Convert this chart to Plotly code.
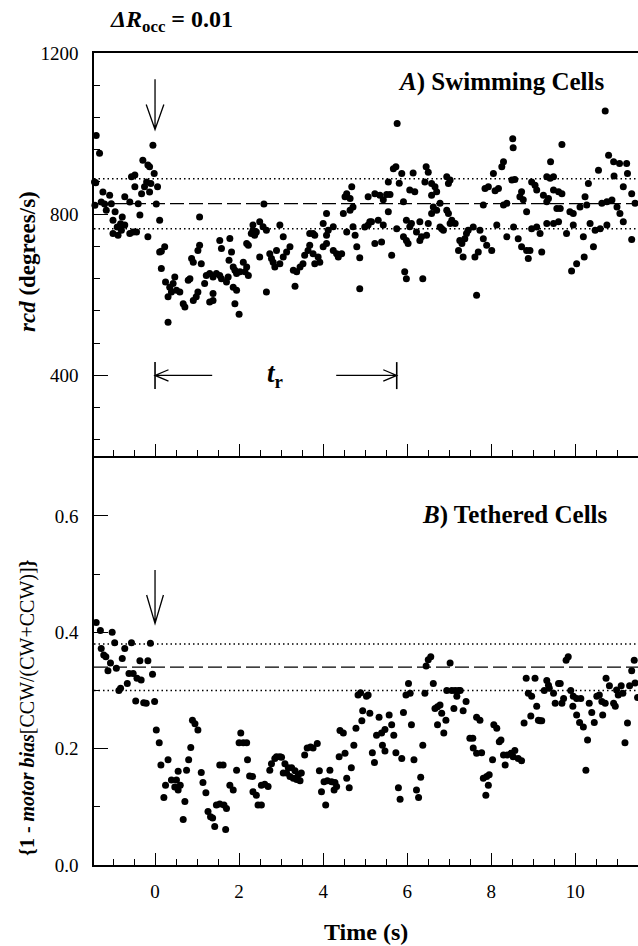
import plotly.graph_objects as go

# ---- Panel A: swimming cells, rcd (degrees/s) vs time (s) ----
swim_t = [
    -1.46, -1.44, -1.43, -1.41, -1.40, -1.32, -1.28, -1.24, -1.20, -1.16,
    -1.08, -1.04, -1.00, -1.00, -0.95, -0.90, -0.88, -0.82, -0.80, -0.78,
    -0.72, -0.72, -0.60, -0.60, -0.56, -0.52, -0.48, -0.48, -0.44, -0.40,
    -0.36, -0.32, -0.29, -0.25, -0.20, -0.17, -0.17, -0.13, -0.13, -0.10,
    -0.05, -0.02, 0.03, 0.06, 0.11,
    0.11, 0.23, 0.15, 0.15, 0.25, 0.35, 0.47, 0.43, 0.31, 0.39,
    0.51, 0.31, 0.59, 0.67, 0.71, 0.79, 0.83, 0.91, 0.98, 1.02,
    0.87, 0.91, 1.02, 1.06, 1.06, 1.10, 1.18, 1.22, 1.30, 1.38,
    1.46, 1.54, 1.58, 1.30, 1.38, 1.38, 1.54, 1.58, 1.70, 1.74,
    1.76, 1.78, 1.82, 1.86, 1.90, 1.94, 2.02, 1.86, 1.94, 1.90,
    2.00, 2.10, 2.18, 2.22, 2.14, 2.18, 2.22, 2.29, 2.33, 2.37,
    2.49, 2.65, 2.33, 2.49, 2.57, 2.65, 2.41, 2.59, 2.97, 3.05,
    2.73, 2.77, 2.81, 2.85, 2.89, 2.97, 3.05, 3.13, 3.21, 3.29,
    3.33, 3.37, 3.45, 3.52, 3.56, 3.64, 3.68, 3.76, 3.80, 3.88,
    3.92, 4.00, 4.08, 4.24, 4.32, 4.36, 3.68, 3.80, 4.08, 4.12,
    3.76, 4.00, 4.08, 4.24,
    4.44, 4.48, 4.52, 4.56, 4.64, 4.64, 4.68, 4.71, 4.71, 4.80,
    4.87, 4.87, 5.07, 5.07, 5.15, 5.23, 5.23, 5.31, 5.35, 5.39,
    5.43, 5.51, 5.55, 5.55, 5.59, 5.63, 5.67, 5.73, 5.76, 5.81,
    5.87, 5.91, 5.91, 5.94, 5.98, 5.98, 5.98, 6.02, 6.06, 6.06,
    6.10, 6.14, 6.18, 6.22, 6.30, 6.30, 6.34, 6.37, 6.42, 6.45,
    6.46, 6.50, 6.58, 6.58, 6.58, 6.62, 6.66, 6.70, 6.70, 6.78,
    6.78, 6.82, 6.86, 6.94, 6.94, 6.98, 6.98, 7.02, 7.06, 7.14,
    7.22, 7.25, 7.30, 7.33, 7.37, 7.41, 7.45, 7.61, 7.65, 7.69,
    7.73, 7.81, 7.81, 7.85, 7.89, 7.93, 8.01, 8.05, 8.09, 8.17,
    8.25, 8.29, 8.29, 8.37, 8.37, 8.49, 8.51, 8.52, 8.56, 8.64,
    8.68, 8.72, 8.72, 8.76, 8.84, 8.84, 8.88, 8.92, 8.96, 8.96,
    9.04, 9.08, 9.08, 9.16, 9.20, 9.24, 9.32, 9.32, 9.36, 9.40,
    9.41, 9.48, 9.48, 9.48, 9.56, 9.60, 9.60, 9.64, 9.68, 9.68,
    9.79, 9.87, 9.91, 9.95, 9.95, 10.03, 10.11, 10.19, 10.21, 10.23,
    10.27, 10.31, 10.43, 10.47, 10.55, 10.59, 10.63, 10.71, 10.75, 10.79,
    10.87, 10.91, 10.92, 10.99, 11.05, 11.06, 11.14, 11.22, 11.24, 11.34,
    11.34, 11.42,
    4.56, 4.76, 4.99, 5.11, 5.43, 5.75, 6.50, 7.02, 7.57, 8.13,
    8.53, 9.32, 10.35, 10.75, 11.14,
]
swim_rcd = [
    706, 880, 822, 878, 995, 951, 830, 855, 825, 810,
    847, 826, 785, 752, 806, 768, 748, 776, 760, 793,
    843, 773, 830, 752, 893, 756, 897, 868, 756, 826,
    798, 851, 934, 868, 880, 922, 744, 918, 855, 876,
    971, 901, 825, 868, 785,
    706, 719, 708, 665, 632, 619, 644, 628, 595, 607,
    611, 532, 607, 578, 570, 636, 640, 586, 595, 607,
    690, 681, 710, 723, 793, 677, 628, 648, 653, 644,
    653, 648, 640, 582, 586, 603, 735, 715, 632, 644,
    686, 740, 706, 669, 661, 653, 657, 619, 611, 578,
    552, 681, 669, 648, 657, 727, 723, 752, 760, 748,
    694, 607, 773, 781, 769, 760, 756, 825, 773, 744,
    702, 690, 681, 669, 710, 677, 694, 706, 719, 661,
    621, 657, 669, 677, 698, 710, 723, 702, 677, 694,
    681, 719, 727, 710, 702, 694, 752, 748, 748, 760,
    752, 777, 802, 769,
    702, 802, 843, 851, 839, 810, 868, 818, 769, 719,
    692, 615, 843, 773, 781, 851, 727, 785, 847, 731,
    836, 849, 880, 806, 849, 698, 913, 918, 1025, 877,
    901, 831, 744, 657, 785, 735, 640, 727, 860, 769,
    777, 902, 856, 756, 781, 735, 744, 640, 880, 918,
    748, 904, 876, 847, 802, 818, 868, 856, 810, 827,
    768, 764, 760, 893, 810, 876, 802, 885, 785, 777,
    710, 735, 727, 694, 739, 752, 760, 694, 599, 706,
    760, 823, 739, 864, 723, 868, 710, 901, 858, 864,
    918, 930, 823, 827, 744, 885, 987, 965, 886, 739,
    843, 856, 719, 836, 806, 710, 690, 710, 880, 764,
    872, 860, 768, 752, 706, 847, 893, 831, 839, 889,
    930, 893, 860, 777, 814, 856, 781, 814, 973, 851,
    752, 806, 659, 802, 773, 677, 818, 744, 694, 843,
    823, 876, 719, 760, 909, 764, 827, 1056, 831, 946,
    835, 930, 895, 818, 926, 802, 868, 926, 901, 851,
    737, 827,
    756, 748, 768, 781, 773, 764, 777, 777, 768, 773,
    768, 777, 777, 773, 781,
]

# ---- Panel B: tethered cells, 1 - motor bias vs time (s) ----
teth_t = [
    -1.40, -1.30, -1.28, -1.22, -1.17, -1.12, -1.06, -1.02, -0.96, -0.92,
    -0.86, -0.82, -0.78, -0.72, -0.66, -0.62, -0.56, -0.52, -0.46, -0.43,
    -0.36, -0.33, -0.27, -0.21, -0.17, -0.11, -0.06, -0.01,
    0.03, 0.10, 0.14, 0.21, 0.25, 0.31, 0.39, 0.47, 0.51, 0.55,
    0.55, 0.60, 0.67, 0.71, 0.75, 0.80, 0.85, 0.89, 0.95, 1.02,
    1.10, 1.14, 1.21, 1.26, 1.32, 1.37, 1.42, 1.46, 1.54, 1.54,
    1.62, 1.64, 1.68, 1.70, 1.78, 1.86, 1.94, 2.00, 2.04, 2.10,
    2.18, 2.20, 2.25, 2.32, 2.33, 2.41, 2.45, 2.53, 2.53, 2.61,
    2.69, 2.73, 2.77, 2.85, 2.89, 2.97, 3.01, 3.05, 3.09, 3.13,
    3.17, 3.21, 3.25, 3.29, 3.33, 3.37, 3.41, 3.45, 3.48, 3.56,
    3.62, 3.70, 3.76, 3.86, 3.91, 3.96, 4.02, 4.06, 4.10, 4.16,
    4.20, 4.26, 4.28, 4.32, 4.38, 4.40, 4.48, 4.52, 4.56, 4.62,
    4.67, 4.73, 4.78, 4.83, 4.89, 4.94, 4.92, 5.03, 5.07, 5.11,
    5.17, 5.22, 5.27, 5.33, 5.39, 5.41, 5.47, 5.47, 5.57, 5.63,
    5.68, 5.73, 5.79, 5.83, 5.87, 5.91, 5.97, 6.03, 6.07, 6.10,
    6.16, 6.22, 6.27, 6.32, 6.37, 6.42, 6.45, 6.50, 6.56, 6.62,
    6.66, 6.72, 6.72, 6.78, 6.82, 6.87, 6.92, 6.94, 7.02, 7.06,
    7.11, 7.14, 7.18, 7.22, 7.26, 7.33, 7.40, 7.49, 7.56, 7.57,
    7.65, 7.65, 7.73, 7.77, 7.81, 7.87, 7.89, 7.93, 7.95, 8.03,
    8.06, 8.13, 8.19, 8.23, 8.29, 8.33, 8.38, 8.47, 8.52, 8.56,
    8.64, 8.72, 8.78, 8.83, 8.88, 8.96, 8.94, 9.04, 9.08, 9.12,
    9.16, 9.20, 9.26, 9.32, 9.36, 9.38, 9.48, 9.52, 9.60, 9.64,
    9.68, 9.72, 9.78, 9.83, 9.89, 9.94, 9.95, 10.03, 10.03, 10.10,
    10.13, 10.19, 10.25, 10.29, 10.33, 10.39, 10.45, 10.51, 10.57, 10.63,
    10.65, 10.71, 10.73, 10.81, 10.91, 10.95, 10.98, 11.02, 11.09, 11.13,
    11.18, 11.24, 11.29, 11.34, 11.40, 11.42, 11.48,
]
teth_bias = [
    0.417, 0.403, 0.372, 0.361, 0.358, 0.334, 0.347, 0.400, 0.382, 0.338,
    0.300, 0.304, 0.355, 0.372, 0.312, 0.329, 0.382, 0.329, 0.282, 0.321,
    0.351, 0.318, 0.279, 0.278, 0.351, 0.381, 0.328, 0.281,
    0.232, 0.210, 0.172, 0.116, 0.137, 0.181, 0.146, 0.134, 0.146, 0.129,
    0.161, 0.137, 0.078, 0.109, 0.163, 0.181, 0.202, 0.249, 0.243, 0.232,
    0.159, 0.142, 0.124, 0.092, 0.083, 0.081, 0.066, 0.103, 0.105, 0.172,
    0.172, 0.103, 0.061, 0.097, 0.137, 0.129, 0.163, 0.210, 0.227, 0.210,
    0.210, 0.181, 0.153, 0.152, 0.126, 0.120, 0.103, 0.103, 0.137, 0.139,
    0.135, 0.163, 0.174, 0.183, 0.186, 0.186, 0.185, 0.158, 0.174, 0.158,
    0.167, 0.152, 0.167, 0.149, 0.162, 0.147, 0.155, 0.145, 0.158, 0.189,
    0.201, 0.203, 0.201, 0.209, 0.162, 0.126, 0.143, 0.103, 0.145, 0.163,
    0.143, 0.129, 0.142, 0.135, 0.186, 0.231, 0.227, 0.192, 0.149, 0.133,
    0.167, 0.206, 0.235, 0.292, 0.296, 0.265, 0.248, 0.290, 0.292, 0.261,
    0.193, 0.176, 0.223, 0.254, 0.227, 0.206, 0.233, 0.196, 0.258, 0.241,
    0.223, 0.193, 0.133, 0.113, 0.183, 0.262, 0.292, 0.312, 0.295, 0.241,
    0.181, 0.129, 0.116, 0.151, 0.206, 0.295, 0.342, 0.353, 0.358, 0.312,
    0.269, 0.272, 0.241, 0.275, 0.261, 0.227, 0.249, 0.300, 0.347, 0.300,
    0.269, 0.300, 0.290, 0.300, 0.300, 0.265, 0.281, 0.218, 0.218, 0.201,
    0.254, 0.192, 0.249, 0.193, 0.149, 0.120, 0.152, 0.137, 0.155, 0.181,
    0.241, 0.235, 0.212, 0.215, 0.189, 0.172, 0.189, 0.192, 0.186, 0.197,
    0.183, 0.179, 0.244, 0.321, 0.295, 0.290, 0.256, 0.321, 0.273, 0.249,
    0.248, 0.248, 0.300, 0.317, 0.309, 0.304, 0.295, 0.278, 0.312, 0.312,
    0.278, 0.286, 0.352, 0.358, 0.300, 0.273, 0.290, 0.286, 0.258, 0.245,
    0.286, 0.237, 0.163, 0.215, 0.278, 0.262, 0.245, 0.290, 0.292, 0.281,
    0.258, 0.278, 0.321, 0.308, 0.278, 0.273, 0.301, 0.292, 0.308, 0.295,
    0.210, 0.244, 0.308, 0.334, 0.352, 0.313, 0.288,
]

# pre-stimulus mean and +/- band for each panel
RCD_MEAN, RCD_BAND = 826, 62
BIAS_MEAN, BIAS_BAND = 0.34, 0.04
T_RECOVERY = 5.75          # recovery time t_r (s)

X_RANGE = [-1.452, 11.49]
RCD_RANGE = [200, 1200]
BIAS_RANGE = [0, 0.703]

FONT = "Liberation Serif, DejaVu Serif, serif"
SPLIT = 0.5037             # paper fraction where the two panels meet

fig = go.Figure()
dot = dict(color="black", size=7, line=dict(width=0))
fig.add_trace(go.Scatter(x=swim_t, y=swim_rcd, mode="markers", marker=dot,
                         xaxis="x2", yaxis="y2", cliponaxis=False,
                         showlegend=False, hoverinfo="x+y"))
fig.add_trace(go.Scatter(x=teth_t, y=teth_bias, mode="markers", marker=dot,
                         xaxis="x", yaxis="y", cliponaxis=False,
                         showlegend=False, hoverinfo="x+y"))

tickfont = dict(family=FONT, size=19, color="black")
xcommon = dict(range=X_RANGE, showline=True, linecolor="black", linewidth=1.5,
               ticks="inside", ticklen=12, tickwidth=1.3, tickcolor="black",
               tick0=0, dtick=2, showgrid=False, zeroline=False,
               minor=dict(dtick=0.5, tick0=0, ticks="inside", ticklen=6,
                          tickwidth=1.1, tickcolor="black", showgrid=False))
ycommon = dict(showline=True, linecolor="black", linewidth=1.5,
               ticks="inside", ticklen=14, tickwidth=1.3, tickcolor="black",
               showgrid=False, zeroline=False, tickfont=tickfont,
               ticklabelstandoff=10)

fig.update_layout(
    width=638, height=946,
    margin=dict(l=94, r=0, t=53, b=81),
    paper_bgcolor="white", plot_bgcolor="white",
    font=dict(family=FONT, color="black"),
    xaxis=dict(**xcommon, anchor="y", tickfont=tickfont, ticklabelstandoff=8),
    xaxis2=dict(**xcommon, anchor="y2", matches="x", showticklabels=False,
                mirror=True),
    yaxis=dict(**ycommon, domain=[0, SPLIT], range=BIAS_RANGE, dtick=0.2,
               tickformat=".1f",
               minor=dict(dtick=0.1, ticks="inside", ticklen=6, tickwidth=1.1,
                          tickcolor="black", showgrid=False)),
    yaxis2=dict(**ycommon, domain=[SPLIT, 1], range=RCD_RANGE, dtick=400,
                tick0=0,
                minor=dict(dtick=80, tick0=0, ticks="inside", ticklen=6,
                           tickwidth=1.1, tickcolor="black", showgrid=False)),
)

shapes = []


def hline(value, yref, xref, dash, width):
    shapes.append(dict(type="line", xref=xref, yref=yref, x0=0, x1=1,
                       y0=value, y1=value,
                       line=dict(color="black", width=width, dash=dash)))


for yref, xref, mean, band in (("y2", "x2 domain", RCD_MEAN, RCD_BAND),
                               ("y", "x domain", BIAS_MEAN, BIAS_BAND)):
    hline(mean, yref, xref, "14px,5px", 1.3)
    hline(mean + band, yref, xref, "1.5px,3px", 1.5)
    hline(mean - band, yref, xref, "1.5px,3px", 1.5)


def path(d, xref, yref, width=1.3):
    shapes.append(dict(type="path", path=d, xref=xref, yref=yref,
                       line=dict(color="black", width=width)))


# stimulus arrows at t = 0
path("M 0,1135 L 0,1010 M -0.21,1072 L 0,1010 L 0.21,1072", "x2", "y2")
path("M 0,0.507 L 0,0.415 M -0.2,0.464 L 0,0.415 L 0.2,0.464", "x", "y")

# recovery-time bracket |<--  t_r  -->|
path("M 0,433 L 0,366", "x2", "y2", 1.6)
path(f"M {T_RECOVERY},433 L {T_RECOVERY},366", "x2", "y2", 1.6)
path("M 0,400 L 1.36,400 M 0.32,414 L 0,400 L 0.32,386", "x2", "y2")
path(f"M 4.31,400 L {T_RECOVERY},400 M {T_RECOVERY - 0.32},414 "
     f"L {T_RECOVERY},400 L {T_RECOVERY - 0.32},386", "x2", "y2")

fig.update_layout(shapes=shapes)


def px_x(px):
    return (px - 94) / 544


def px_y(py):
    return (865 - py) / 812


ann = [
    dict(text="<b><i>ΔR</i><sub>occ</sub> = 0.01</b>", x=px_x(108), y=px_y(21),
         xanchor="left", yanchor="middle", font=dict(size=24)),
    dict(text="<b><i>A</i>) Swimming Cells</b>", x=px_x(501), y=px_y(82),
         xanchor="center", yanchor="middle", font=dict(size=25)),
    dict(text="<b><i>B</i>) Tethered Cells</b>", x=px_x(515), y=px_y(515),
         xanchor="center", yanchor="middle", font=dict(size=25)),
    dict(text="<b><i>rcd</i> (degrees/s)</b>", x=px_x(27), y=px_y(262),
         textangle=-90, xanchor="center", yanchor="middle",
         font=dict(size=23)),
    dict(text="<b>{1 - <i>motor bias</i></b>[CCW/(CW+CCW)]<b>}</b>",
         x=px_x(27), y=px_y(708), textangle=-90, xanchor="center",
         yanchor="middle", font=dict(size=20)),
    dict(text="<b>Time (s)</b>", x=px_x(366), y=px_y(932),
         xanchor="center", yanchor="middle", font=dict(size=24)),
]
for a in ann:
    a.update(xref="paper", yref="paper", showarrow=False)
    a["font"].update(family=FONT, color="black")

ann.append(dict(text="<b><i>t</i><sub>r</sub></b>", x=2.85, y=400,
                xref="x2", yref="y2", showarrow=False, xanchor="center",
                yanchor="middle",
                font=dict(family=FONT, size=27, color="black")))
fig.update_layout(annotations=ann)

fig.write_html("out.html")
